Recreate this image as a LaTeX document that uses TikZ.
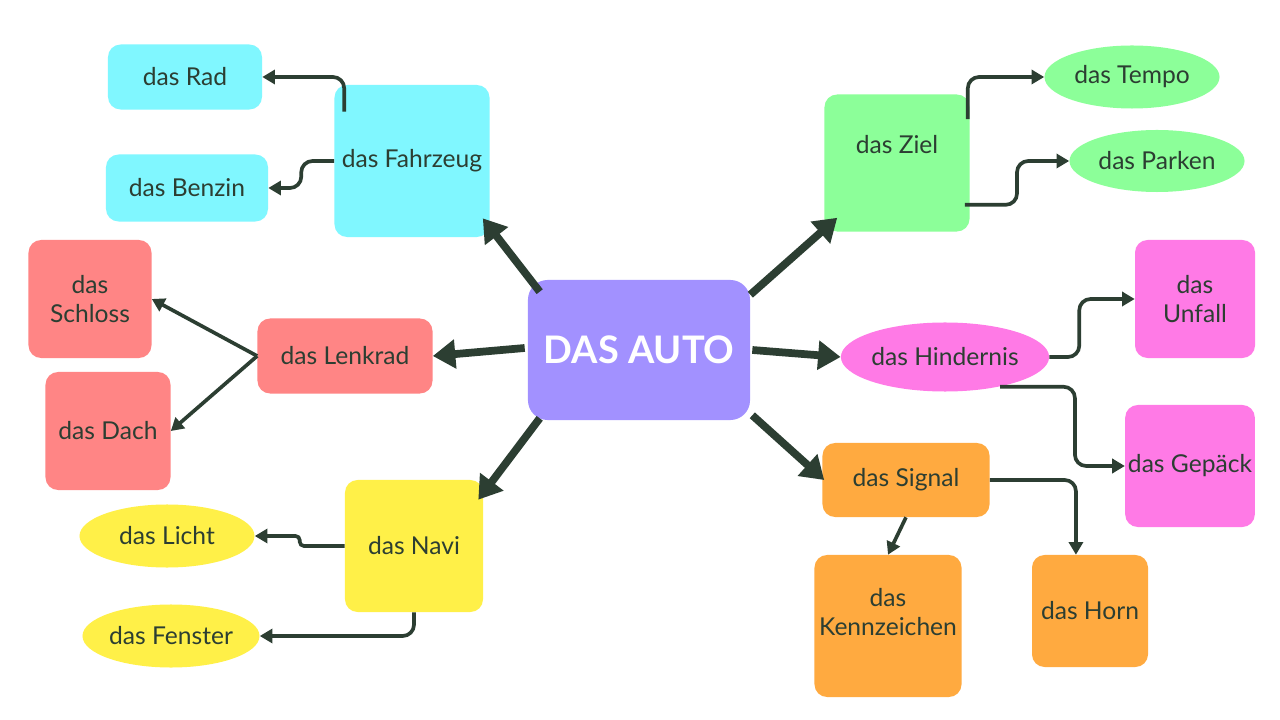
\documentclass[tikz,border=0pt]{standalone}
\usepackage{fontspec}
\setmainfont{Lato}
\usetikzlibrary{shapes.geometric, arrows.meta, calc}

\definecolor{tinta}{RGB}{44,62,50}
\definecolor{lila}{RGB}{162,145,255}
\definecolor{celeste}{RGB}{128,247,255}
\definecolor{salmon}{RGB}{255,133,133}
\definecolor{amarillo}{RGB}{255,240,72}
\definecolor{verde}{RGB}{140,255,153}
\definecolor{rosa}{RGB}{255,122,230}
\definecolor{naranja}{RGB}{255,170,64}

\begin{document}
\begin{tikzpicture}[x=0.025cm, y=-0.025cm,
  caja/.style={rectangle, rounded corners=9pt, inner sep=2pt, align=center, text=tinta, font=\fontsize{17.5}{20}\selectfont},
  globo/.style={ellipse, inner sep=0pt, align=center, text=tinta, font=\fontsize{17.5}{20}\selectfont},
  flecha/.style={draw=tinta, line width=5.5pt, -{Triangle[length=16pt,width=20pt]}},
  linea/.style={draw=tinta, line width=2.6pt, rounded corners=8pt, -{Triangle[length=9pt,width=10pt]}}]
  \useasboundingbox[fill=white] (0,0) rectangle (1280,720);

  \node[caja, fill=lila, text=white, font=\fontsize{27}{30}\selectfont\bfseries, minimum width=5.55cm, minimum height=3.5cm, rounded corners=14pt] (auto) at (639,350) {DAS AUTO}; % nodo central

  \node[caja, fill=celeste, minimum width=3.875cm, minimum height=3.8cm] (fahrzeug) at (412,161) {das Fahrzeug};
  \node[caja, fill=celeste, minimum width=3.85cm, minimum height=1.625cm] (rad) at (185,77) {das Rad};
  \node[caja, fill=celeste, minimum width=4.05cm, minimum height=1.675cm] (benzin) at (187,188) {das Benzin};

  \node[caja, fill=salmon, minimum width=4.375cm, minimum height=1.875cm] (lenkrad) at (345,356) {das Lenkrad};
  \node[caja, fill=salmon, minimum width=3.075cm, minimum height=2.95cm] (schloss) at (90,299) {das\\Schloss};
  \node[caja, fill=salmon, minimum width=3.125cm, minimum height=2.95cm] (dach) at (108,431) {das Dach};

  \node[caja, fill=amarillo, minimum width=3.45cm, minimum height=3.3cm] (navi) at (414,546) {das Navi};
  \node[globo, fill=amarillo, minimum width=4.375cm, minimum height=1.575cm] (licht) at (167,536) {das Licht};
  \node[globo, fill=amarillo, minimum width=4.425cm, minimum height=1.575cm] (fenster) at (171,636) {das Fenster};

  \node[caja, fill=verde, text depth=27pt, minimum width=3.625cm, minimum height=3.425cm] (ziel) at (897,163) {das Ziel};
  \node[globo, fill=verde, minimum width=4.375cm, minimum height=1.575cm] (tempo) at (1132,77) {das Tempo};
  \node[globo, fill=verde, minimum width=4.375cm, minimum height=1.55cm] (parken) at (1157,161) {das Parken};

  \node[globo, fill=rosa, minimum width=4.75cm, minimum height=1.725cm] (hindernis) at (945,357) {das Hindernis};
  \node[caja, fill=rosa, minimum width=3cm, minimum height=2.95cm] (unfall) at (1195,299) {das\\Unfall};
  \node[caja, fill=rosa, minimum width=3cm, minimum height=3.05cm] (gepack) at (1190,466) {das Gepäck};

  \node[caja, fill=naranja, minimum width=4.175cm, minimum height=1.85cm] (signal) at (906,480) {das Signal};
  \node[caja, fill=naranja, text depth=20pt, minimum width=3.675cm, minimum height=3.55cm] (kennzeichen) at (888,626) {das\\Kennzeichen};
  \node[caja, fill=naranja, minimum width=2.9cm, minimum height=2.8cm] (horn) at (1090,611) {das Horn};

  % flechas gruesas
  \draw[flecha] ([shift={(12,12)}]auto.north west) -- ([shift={(-7,-19)}]fahrzeug.south east);
  \draw[flecha] ([shift={(-3,-2)}]auto.west) -- (lenkrad.east);
  \draw[flecha] ([shift={(12,-2)}]auto.south west) -- ([shift={(-5,20)}]navi.north east);
  \draw[flecha] ([shift={(0,15)}]auto.north east) -- ([shift={(13,-14)}]ziel.south west);
  \draw[flecha] ([shift={(2,0)}]auto.east) -- (hindernis.west);
  \draw[flecha] ([shift={(2,-5)}]auto.south east) -- ([shift={(2,0)}]signal.west);

  % puntos de salida y de quiebre
  \coordinate (f1) at ([shift={(10,27)}]fahrzeug.north west);
  \coordinate (f2) at ($(fahrzeug.west)!.5!(benzin.east)$);
  \coordinate (n1) at ($(navi.west)!.5!(licht.east)$);
  \coordinate (z1) at ([shift={(-2,25)}]ziel.north east);
  \coordinate (z2) at ([shift={(-5,-27)}]ziel.south east);
  \coordinate (z3) at ($(z2)!.5!(parken.west)$);
  \coordinate (h1) at ([shift={(55,-5)}]hindernis.south);
  \coordinate (h2) at ($(hindernis.east)!.35!(unfall.west)$);
  \coordinate (h3) at ($(h1)!.6!(gepack.west)$);

  % lineas finas
  \draw[linea] (f1) |- (rad.east);
  \draw[linea] (fahrzeug.west) -- (f2 |- fahrzeug.west) -- (f2 |- benzin.east) -- (benzin.east);
  \draw[linea, rounded corners=0pt] (lenkrad.west) -- (schloss.east);
  \draw[linea, rounded corners=0pt] (lenkrad.west) -- (dach.east);
  \draw[linea, rounded corners=3pt] (navi.west) -- (n1 |- navi.west) -- (n1 |- licht.east) -- (licht.east);
  \draw[linea] (navi.south) |- (fenster.east);
  \draw[linea] (z1) |- (tempo.west);
  \draw[linea] (z2) -- (z3 |- z2) -- (z3 |- parken.west) -- (parken.west);
  \draw[linea] (hindernis.east) -- (h2 |- hindernis.east) -- (h2 |- unfall.west) -- (unfall.west);
  \draw[linea] (h1) -- (h3 |- h1) -- (h3 |- gepack.west) -- (gepack.west);
  \draw[linea] (signal.east) -| ([xshift=-10]horn.north);
  \draw[linea] (signal.south) -- (kennzeichen.north);
\end{tikzpicture}
\end{document}
